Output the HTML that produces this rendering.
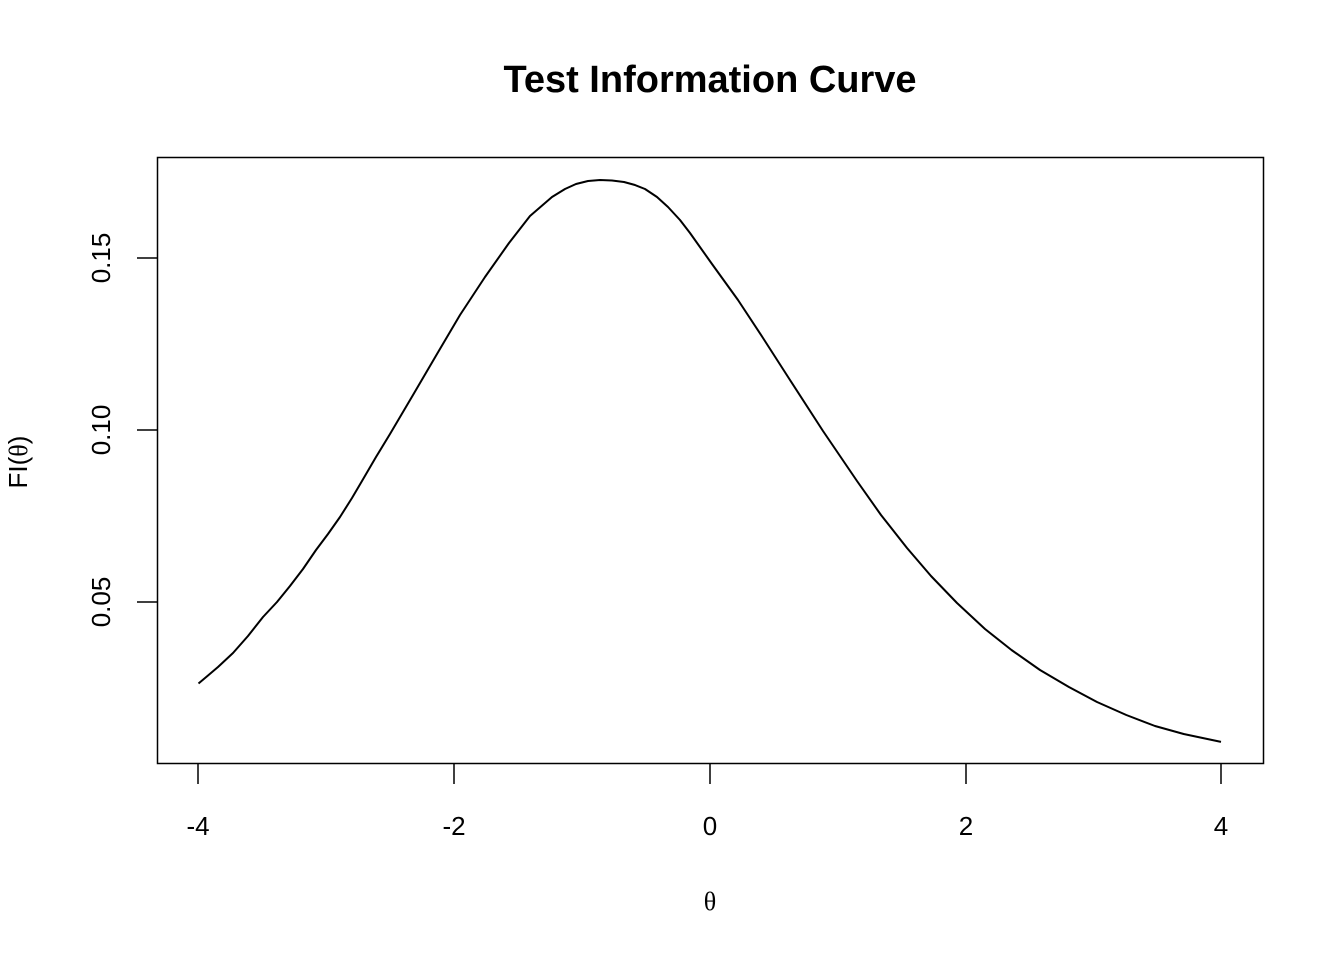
<!DOCTYPE html>
<html><head><meta charset="utf-8"><style>body{margin:0;background:#fff}</style></head><body>
<svg width="1344" height="960" xmlns="http://www.w3.org/2000/svg" font-family="Liberation Sans, sans-serif">
<rect width="1344" height="960" fill="#fff"/>
<text x="710" y="92" text-anchor="middle" font-size="38" font-weight="bold">Test Information Curve</text>
<rect x="157.5" y="157.5" width="1106" height="606" fill="none" stroke="#000" stroke-width="1.5"/>
<g stroke="#000" stroke-width="1.5">
<line x1="198" y1="764" x2="198" y2="784"/><line x1="454" y1="764" x2="454" y2="784"/><line x1="710" y1="764" x2="710" y2="784"/><line x1="966" y1="764" x2="966" y2="784"/><line x1="1221" y1="764" x2="1221" y2="784"/>
<line x1="137" y1="258" x2="157" y2="258"/><line x1="137" y1="430" x2="157" y2="430"/><line x1="137" y1="602" x2="157" y2="602"/>
</g>
<g font-size="26" text-anchor="middle">
<text x="198" y="835">-4</text><text x="454" y="835">-2</text><text x="710" y="835">0</text><text x="966" y="835">2</text><text x="1221" y="835">4</text>
<text transform="translate(110,258) rotate(-90)">0.15</text>
<text transform="translate(110,430) rotate(-90)">0.10</text>
<text transform="translate(110,602) rotate(-90)">0.05</text>
<text transform="translate(27,462) rotate(-90)">FI(<tspan font-family="Liberation Serif, serif">θ</tspan>)</text>
<text x="710" y="910" font-family="Liberation Serif, serif">θ</text>
</g>
<polyline fill="none" stroke="#000" stroke-width="2" stroke-linejoin="round" points="198.5,683.5 208,675.5 218,667 233,653 248,636 263,617 277,602 290,586 303,569 316,550 328,534 340,517 352,498 362,481 376,457 390,434 413,395 437,354 460,315 485,277 509,243 530,216 552,197 565,189 576,184 588,181 600,180 612,180.5 624,182 635,185 645,189 657,197 668,207 680,220 690,233 712,264 738,300 763,338 790,380 823,431 857,481 881,515 907,548 931,576 957,603 985,629 1011.5,650 1040,670 1068.9,687 1097,702 1126.3,715 1155,726 1183.7,734 1221,741.9"/>
</svg>
</body></html>
